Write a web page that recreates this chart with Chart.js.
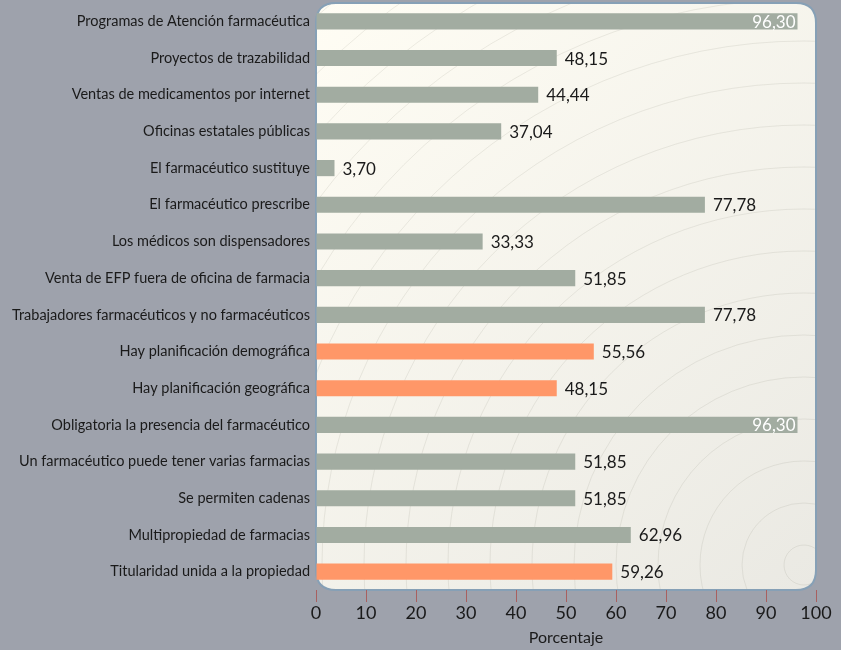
<!DOCTYPE html>
<html>
<head>
<meta charset="utf-8">
<script src="https://cdn.jsdelivr.net/npm/chart.js@4"></script>
<style>
  html, body { margin: 0; padding: 0; background: #9ea2ac; }
  #wrap { width: 841px; height: 650px; }
</style>
</head>
<body>
<div id="wrap"><canvas id="myChart" width="841" height="650"></canvas></div>
<script>
const categorias = [
  'Programas de Atención farmacéutica',
  'Proyectos de trazabilidad',
  'Ventas de medicamentos por internet',
  'Oficinas estatales públicas',
  'El farmacéutico sustituye',
  'El farmacéutico prescribe',
  'Los médicos son dispensadores',
  'Venta de EFP fuera de oficina de farmacia',
  'Trabajadores farmacéuticos y no farmacéuticos',
  'Hay planificación demográfica',
  'Hay planificación geográfica',
  'Obligatoria la presencia del farmacéutico',
  'Un farmacéutico puede tener varias farmacias',
  'Se permiten cadenas',
  'Multipropiedad de farmacias',
  'Titularidad unida a la propiedad'
];
const porcentajes = [96.30, 48.15, 44.44, 37.04, 3.70, 77.78, 33.33, 51.85, 77.78, 55.56, 48.15, 96.30, 51.85, 51.85, 62.96, 59.26];
const destacados = [false, false, false, false, false, false, false, false, false, true, true, false, false, false, false, true];
const ticksX = [0, 10, 20, 30, 40, 50, 60, 70, 80, 90, 100];

const GRIS = '#a2aca1';
const SALMON = '#ff9768';
const FUENTE = 'Lato, "Open Sans", sans-serif';

// fondo del panel con esquinas redondeadas y circulos
const panelPlugin = {
  id: 'panel',
  beforeDraw(chart) {
    const ctx = chart.ctx;
    const a = chart.chartArea;
    const r = 20;
    const l = a.left, t = a.top, rr = a.right, b = a.bottom;
    function camino() {
      ctx.beginPath();
      ctx.moveTo(l + r, t);
      ctx.lineTo(rr - r, t);
      ctx.quadraticCurveTo(rr, t, rr, t + r);
      ctx.lineTo(rr, b - r);
      ctx.quadraticCurveTo(rr, b, rr - r, b);
      ctx.lineTo(l + r, b);
      ctx.quadraticCurveTo(l, b, l, b - r);
      ctx.lineTo(l, t + r);
      ctx.quadraticCurveTo(l, t, l + r, t);
      ctx.closePath();
    }
    ctx.save();
    camino();
    const g = ctx.createLinearGradient(l, t, rr, b);
    g.addColorStop(0, '#fffdf4');
    g.addColorStop(1, '#eae9e3');
    ctx.fillStyle = g;
    ctx.fill();
    ctx.clip();
    ctx.strokeStyle = 'rgba(120,120,110,0.13)';
    ctx.lineWidth = 1;
    const cx = rr - 12, cy = b - 25;
    for (let rad = 20; rad < 900; rad += 42) {
      ctx.beginPath();
      ctx.arc(cx, cy, rad, 0, Math.PI * 2);
      ctx.stroke();
    }
    ctx.restore();
    ctx.save();
    camino();
    ctx.strokeStyle = '#86a0b6';
    ctx.lineWidth = 2;
    ctx.stroke();
    ctx.restore();
  }
};

// etiquetas de valores
const valoresPlugin = {
  id: 'valores',
  afterDatasetsDraw(chart) {
    const ctx = chart.ctx;
    const meta = chart.getDatasetMeta(0);
    ctx.save();
    ctx.font = '17px ' + FUENTE;
    ctx.textBaseline = 'middle';
    meta.data.forEach(function (bar, i) {
      const txt = porcentajes[i].toFixed(2).replace('.', ',');
      if (porcentajes[i] > 90) {
        ctx.fillStyle = '#ffffff';
        ctx.textAlign = 'right';
        ctx.fillText(txt, bar.x - 2, bar.y + 1);
      } else {
        ctx.fillStyle = '#1a1a1a';
        ctx.textAlign = 'left';
        ctx.fillText(txt, bar.x + 8, bar.y + 1);
      }
    });
    ctx.restore();
  }
};

new Chart(document.getElementById('myChart'), {
  type: 'bar',
  data: {
    labels: categorias,
    datasets: [{
      data: porcentajes,
      backgroundColor: destacados.map(d => d ? SALMON : GRIS),
      barPercentage: 0.88,
      categoryPercentage: 0.5
    }]
  },
  options: {
    indexAxis: 'y',
    responsive: false,
    animation: false,
    layout: { padding: { top: 3, right: 25, bottom: 3, left: 0 } },
    plugins: { legend: { display: false }, tooltip: { enabled: false } },
    scales: {
      x: {
        min: 0,
        max: 100,
        afterBuildTicks(axis) { axis.ticks = ticksX.map(v => ({ value: v })); },
        afterFit(axis) { axis.height = 57; },
        border: { display: false },
        grid: { drawOnChartArea: false, tickLength: 12, color: '#a86060', offset: false },
        ticks: { color: '#1a1a1a', font: { family: FUENTE, size: 18 }, padding: 0 },
        title: { display: true, text: 'Porcentaje', color: '#1a1a1a', font: { family: FUENTE, size: 16 }, padding: { top: 3, bottom: 0 } }
      },
      y: {
        afterFit(axis) { axis.width = 316; axis.paddingTop = 0; axis.paddingBottom = 0; },
        border: { display: false },
        grid: { display: false, drawTicks: false },
        ticks: { color: '#1a1a1a', font: { family: FUENTE, size: 14.5 }, padding: 6, autoSkip: false }
      }
    }
  },
  plugins: [panelPlugin, valoresPlugin]
});
</script>
</body>
</html>
